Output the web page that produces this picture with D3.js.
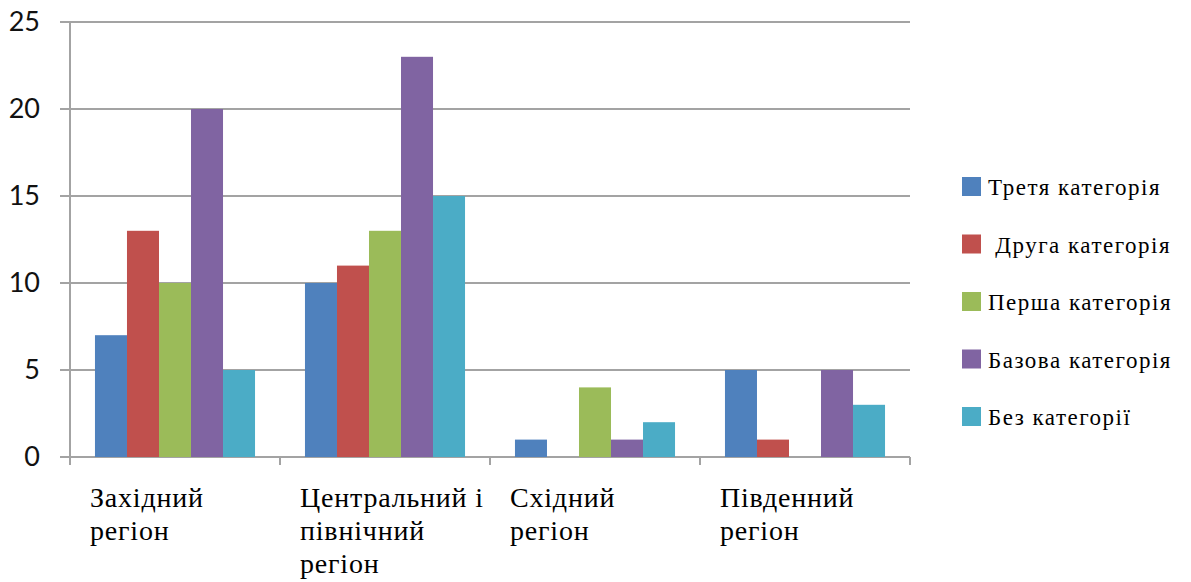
<!DOCTYPE html>
<head>
    <meta charset="utf-8">
    <script src="https://d3js.org/d3.v7.min.js"></script>
    <style>
        body { margin: 0; background: #fff; }
        .serif { font-family: "Liberation Serif", Tinos, "Times New Roman", "DejaVu Serif", "Noto Serif", serif; }
    </style>
</head>

<body>
    <div id="barchart"></div>
</body>

<script>

    // data
    const regions = ["Західний регіон", "Центральний і північний регіон", "Східний регіон", "Південний регіон"];
    const regionLines = [["Західний", "регіон"], ["Центральний і", "північний", "регіон"], ["Східний", "регіон"], ["Південний", "регіон"]];
    const seriesNames = ["Третя категорія", " Друга категорія", "Перша категорія", "Базова категорія", "Без категорії"];
    const tretia  = [7, 10, 1, 5];
    const druha   = [13, 11, 0, 1];
    const persha  = [10, 13, 4, 0];
    const bazova  = [20, 23, 1, 5];
    const bez     = [5, 15, 2, 3];
    const yTicks  = [0, 5, 10, 15, 20, 25];

    const seriesValues = [tretia, druha, persha, bazova, bez];
    const colors = ["#4F81BD", "#C0504D", "#9BBB59", "#8064A2", "#4BACC6"];

    const W = 1191, H = 582;
    const margin = {top: 22, right: 281, bottom: 125, left: 70},
        width = W - margin.left - margin.right,
        height = H - margin.top - margin.bottom;

    const svg = d3.select("#barchart")
        .append("svg")
            .attr("width", W)
            .attr("height", H)
        .append("g")
            .attr("transform", `translate(${margin.left},${margin.top})`);

    const x = d3.scaleBand()
        .domain(regions)
        .range([0, width]);

    const xInner = d3.scaleBand()
        .domain(seriesNames)
        .range([0, x.bandwidth()])
        .paddingOuter(0.78)
        .paddingInner(0);

    const y = d3.scaleLinear()
        .domain([0, 25])
        .range([height, 0]);

    const gridColor = "#a3a3a3";

    // gridlines + y ticks
    svg.append('g')
        .selectAll('line')
        .data(yTicks)
        .join('line')
            .attr('x1', -10)
            .attr('x2', width)
            .attr('y1', d => y(d))
            .attr('y2', d => y(d))
            .attr('stroke', gridColor)
            .attr('stroke-width', 2);

    svg.append('g')
        .selectAll('text')
        .data(yTicks)
        .join('text')
            .attr('x', -30)
            .attr('y', d => y(d))
            .attr('dy', '0.35em')
            .attr('text-anchor', 'end')
            .style('font-family', 'Lato, "Open Sans", sans-serif')
            .style('font-size', '27px')
            .attr('fill', '#111')
            .text(d => d);

    // bars
    const groups = svg.append('g')
        .selectAll('g')
        .data(regions)
        .join('g')
            .attr('transform', d => `translate(${x(d)},0)`);

    groups.selectAll('rect')
        .data((d, i) => seriesNames.map((s, j) => ({s: s, v: seriesValues[j][i], c: colors[j]})))
        .join('rect')
            .attr('x', d => xInner(d.s))
            .attr('width', xInner.bandwidth())
            .attr('y', d => y(d.v))
            .attr('height', d => height - y(d.v))
            .attr('fill', d => d.c);

    // axes lines
    svg.append('line')
        .attr('x1', 0).attr('x2', 0)
        .attr('y1', 0).attr('y2', height + 8)
        .attr('stroke', gridColor).attr('stroke-width', 2);

    svg.append('g')
        .selectAll('line')
        .data(regions.concat(['end']))
        .join('line')
            .attr('x1', d => d === 'end' ? width : x(d))
            .attr('x2', d => d === 'end' ? width : x(d))
            .attr('y1', height)
            .attr('y2', height + 8)
            .attr('stroke', gridColor)
            .attr('stroke-width', 2);

    // category labels
    const labels = svg.append('g')
        .selectAll('text')
        .data(regions)
        .join('text')
            .attr('class', 'serif')
            .attr('x', d => x(d) + 20)
            .attr('y', height + 50)
            .style('font-size', '28px')
            .style('letter-spacing', '0.8px')
            .attr('fill', '#000');

    labels.selectAll('tspan')
        .data((d, i) => regionLines[i])
        .join('tspan')
            .attr('x', function() { return this.parentNode.getAttribute('x'); })
            .attr('dy', (d, i) => i === 0 ? 0 : 33)
            .text(d => d);

    // legend
    const legend = svg.append('g')
        .attr('transform', `translate(${width + 52}, 165)`);

    const item = legend.selectAll('g')
        .data(seriesNames)
        .join('g')
            .attr('transform', (d, i) => `translate(0, ${i * 57.5})`);

    item.append('rect')
        .attr('width', 19)
        .attr('height', 19)
        .attr('y', -10)
        .attr('fill', (d, i) => colors[i]);

    item.append('text')
        .attr('class', 'serif')
        .attr('x', 26)
        .attr('y', 8)
        .style('white-space', 'pre')
        .style('font-size', '23px')
        .style('letter-spacing', '1.5px')
        .attr('fill', '#000')
        .text(d => d);

</script>
</html>
